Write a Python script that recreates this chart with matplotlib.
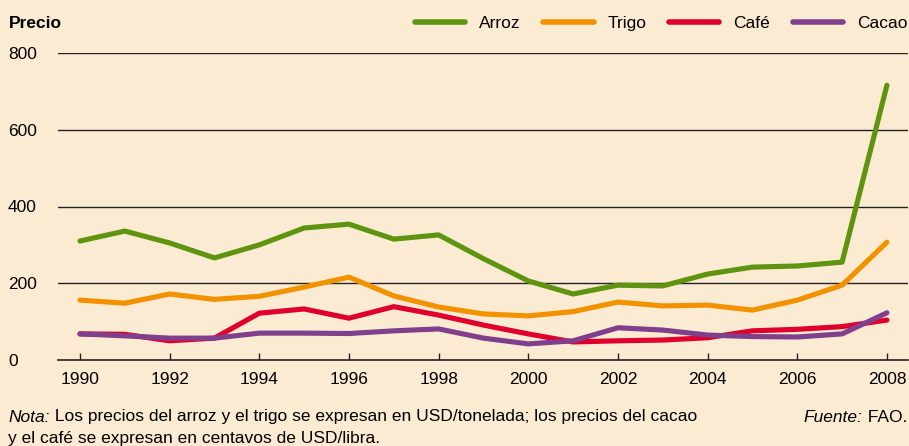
import matplotlib.pyplot as plt

plt.rcParams["font.family"] = ["Liberation Sans", "DejaVu Sans"]

years = list(range(1990, 2009))
arroz = [310, 336, 305, 266, 300, 344, 354, 315, 326, 264, 206, 172, 195, 193, 224, 242, 245, 255, 716]
trigo = [156, 148, 172, 158, 166, 190, 216, 167, 138, 120, 115, 126, 151, 141, 143, 130, 156, 195, 307]
cafe = [68, 67, 50, 57, 122, 133, 109, 139, 117, 91, 68, 47, 50, 52, 58, 76, 80, 87, 104]
cacao = [68, 63, 57, 57, 70, 70, 69, 76, 81, 57, 42, 50, 84, 78, 65, 61, 60, 68, 123]

series = [
    ("Arroz", arroz, "#5e940f"),
    ("Trigo", trigo, "#f39200"),
    ("Café", cafe, "#e0002d"),
    ("Cacao", cacao, "#7f3f8c"),
]
xticks = list(range(1990, 2009, 2))
yticks = [0, 200, 400, 600, 800]

bg = "#fcebd3"
fs = 12.5
W, H = 909, 446
fig = plt.figure(figsize=(W / 100, H / 100), dpi=100, facecolor=bg)
ax = fig.add_axes([58 / W, 1 - 360 / H, 850 / W, 307 / H], facecolor=bg)

for y in yticks[1:]:
    ax.axhline(y, color="#222222", lw=1.0, zorder=1)

for name, vals, color in series:
    ax.plot(years, vals, color=color, lw=3.7, solid_capstyle="round",
            solid_joinstyle="round", label=name, zorder=3)

ax.set_xlim(1989.51, 2008.47)
ax.set_ylim(0, 800)
for s in ["top", "right", "left"]:
    ax.spines[s].set_visible(False)
ax.spines["bottom"].set_color("#222222")
ax.spines["bottom"].set_linewidth(1.2)

ax.set_xticks(xticks)
ax.set_xticklabels([str(x) for x in xticks])
ax.tick_params(axis="x", direction="in", length=5, width=1, color="#222222",
               labelsize=fs, pad=9)
ax.set_yticks(yticks)
ax.set_yticklabels([str(y) for y in yticks])
ax.tick_params(axis="y", length=0, labelsize=fs, pad=36)
for lab in ax.get_yticklabels():
    lab.set_horizontalalignment("left")

fig.text(9 / W, 1 - 24 / H, "Precio", fontsize=fs, fontweight="bold", va="center", ha="left")

leg = fig.legend(loc="center right", bbox_to_anchor=(1.0, 1 - 23 / H), ncol=4, frameon=False,
                 fontsize=fs, handlelength=2.9, handletextpad=0.8, columnspacing=1.3,
                 borderaxespad=0, borderpad=0.1)
for h in leg.get_lines():
    h.set_linewidth(4)

# note lines with italic lead words
r = fig.canvas.get_renderer()
y1 = 1 - 417 / H
y2 = 1 - 438 / H
t = fig.text(8 / W, y1, "Nota:", fontsize=fs, style="italic", va="center", ha="left")
x_end = t.get_window_extent(r).x1 / W
fig.text(x_end, y1, " Los precios del arroz y el trigo se expresan en USD/tonelada; los precios del cacao",
         fontsize=fs, va="center", ha="left")
fig.text(8 / W, y2, "y el café se expresan en centavos de USD/libra.",
         fontsize=fs, va="center", ha="left")
t2 = fig.text(907 / W, y1, " FAO.", fontsize=fs, va="center", ha="right")
x_start = t2.get_window_extent(r).x0 / W
fig.text(x_start, y1, "Fuente:", fontsize=fs, style="italic", va="center", ha="right")

fig.savefig("out.png", dpi=100, facecolor=bg)
